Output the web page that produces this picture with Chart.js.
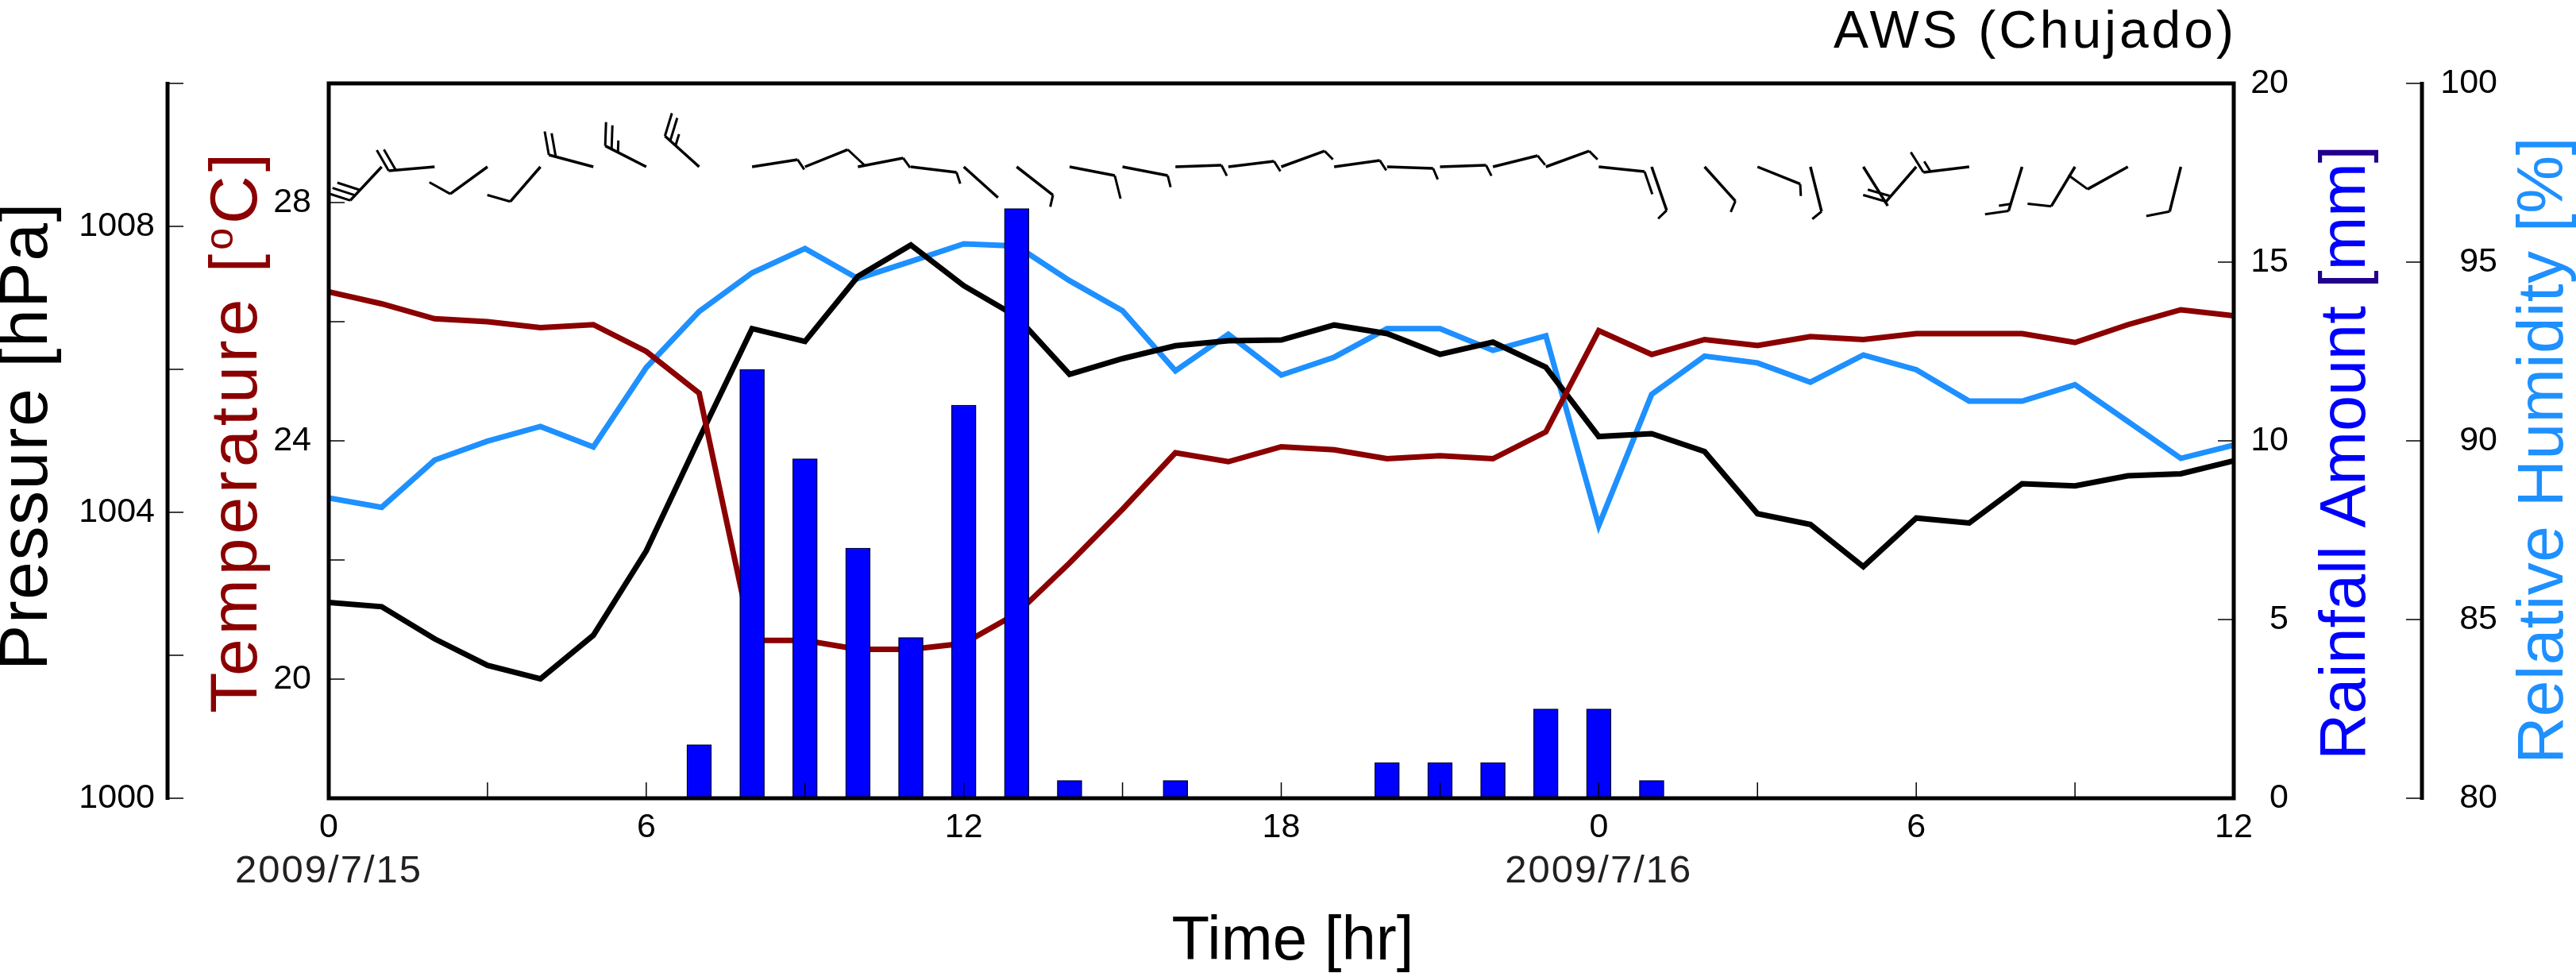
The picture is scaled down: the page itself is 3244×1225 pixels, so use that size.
<!DOCTYPE html>
<html>
<head>
<meta charset="utf-8">
<script src="https://cdn.jsdelivr.net/npm/chart.js@4/dist/chart.umd.min.js"></script>
<style>
  html, body { margin: 0; padding: 0; background: #fff; }
  canvas { display: block; }
</style>
</head>
<body>
<canvas id="awsChart" width="3244" height="1225"></canvas>
<script>
// hourly readings, 2009/7/15 00h .. 2009/7/16 12h
const hours = [0, 1, 2, 3, 4, 5, 6, 7, 8, 9, 10, 11, 12, 13, 14, 15, 16, 17, 18,
    19, 20, 21, 22, 23, 24, 25, 26, 27, 28, 29, 30, 31, 32, 33, 34, 35, 36];

const temperature = [26.5, 26.3, 26.05, 26.0, 25.9, 25.95, 25.5, 24.8, 20.65, 20.65, 20.5, 20.5,
    20.6, 21.1, 21.95, 22.85, 23.8, 23.65, 23.9, 23.85, 23.7, 23.75, 23.7, 24.15, 25.85, 25.45,
    25.7, 25.6, 25.75, 25.7, 25.8, 25.8, 25.8, 25.65, 25.95, 26.2, 26.1];

const pressure = [1002.74, 1002.68, 1002.23, 1001.86, 1001.67, 1002.28, 1003.46, 1005.03, 1006.57,
    1006.39, 1007.3, 1007.74, 1007.17, 1006.74, 1005.93, 1006.15, 1006.33, 1006.4, 1006.41,
    1006.62, 1006.5, 1006.21, 1006.38, 1006.03, 1005.06, 1005.1, 1004.85, 1003.98, 1003.83,
    1003.24, 1003.92, 1003.85, 1004.4, 1004.37, 1004.51, 1004.54, 1004.72];

const humidity = [88.4, 88.14, 89.46, 89.99, 90.4, 89.83, 92.05, 93.62, 94.7, 95.38, 94.54, 95.02,
    95.51, 95.45, 94.48, 93.64, 91.96, 92.98, 91.84, 92.34, 93.14, 93.14, 92.53, 92.94, 87.63,
    91.3, 92.37, 92.18, 91.64, 92.4, 91.99, 91.11, 91.11, 91.57, 90.54, 89.51, 89.88];

const rainfall = [0, 0, 0, 0, 0, 0, 0, 1.5, 12, 9.5, 7, 4.5, 11, 16.5, 0.5, 0, 0.5, 0, 0, 0,
    1, 1, 1, 2.5, 2.5, 0.5, 0, 0, 0, 0, 0, 0, 0, 0, 0, 0, 0];

// wind: direction it blows from (deg), speed (barb units: 10 = full feather, 5 = half)
const windDir = [null, 223, 265, 234, 221, 285, 297, 312, 81, 68, 79, 97, 132, 128, 101, 101, 88,
    83, 70, 82, 92, 88, 76, 70, 96, 161, 138, 112, 166, 148, 221, 263, 197, 211, 241, 194, null];
const windSpeed = [0, 30, 20, 10, 10, 20, 25, 25, 5, 10, 5, 5, 2, 5, 10, 5, 5,
    5, 5, 5, 5, 5, 5, 5, 10, 5, 5, 5, 5, 2, 20, 15, 15, 10, 10, 10, 0];

// axes
const xTickHours = [0, 3, 6, 9, 12, 15, 18, 21, 24, 27, 30, 33, 36];
const xLabelHours = [0, 6, 12, 18, 24, 30, 36];
const xLabels = ['0', '6', '12', '18', '0', '6', '12'];
const dateHours = [0, 24];
const dateLabels = ['2009/7/15', '2009/7/16'];
const tempTicks = [18, 20, 22, 24, 26, 28, 30];
const tempLabels = [20, 24, 28];
const pressTicks = [1000, 1002, 1004, 1006, 1008, 1010];
const pressLabels = [1000, 1004, 1008];
const rainTicks = [0, 5, 10, 15, 20];
const humTicks = [80, 85, 90, 95, 100];

const FONT = '"Liberation Sans", Arial, sans-serif';
const TEMP_COLOR = '#8b0000';
const RAIN_COLOR = '#0000ff';
const HUM_COLOR = '#1e90ff';

function line(ctx, x1, y1, x2, y2) {
    ctx.beginPath();
    ctx.moveTo(x1, y1);
    ctx.lineTo(x2, y2);
    ctx.stroke();
}

function text(ctx, str, x, y, size, align, baseline, color, spacing) {
    ctx.font = size + 'px ' + FONT;
    ctx.textAlign = align;
    ctx.textBaseline = baseline;
    ctx.fillStyle = color || '#000';
    ctx.letterSpacing = (spacing || 0) + 'px';
    ctx.fillText(str, x, y);
    ctx.letterSpacing = '0px';
}

// rotated title made of coloured pieces, read bottom to top
function vTitle(ctx, pieces, x, cy, spacing) {
    ctx.save();
    ctx.translate(x, cy);
    ctx.rotate(-Math.PI / 2);
    ctx.textAlign = 'left';
    ctx.textBaseline = 'alphabetic';
    ctx.letterSpacing = spacing + 'px';
    let total = 0;
    pieces.forEach(p => {
        ctx.font = p.size + 'px ' + FONT;
        p.w = ctx.measureText(p.t).width;
        total += p.w;
    });
    let pos = -total / 2;
    pieces.forEach(p => {
        ctx.font = p.size + 'px ' + FONT;
        ctx.fillStyle = p.c;
        ctx.fillText(p.t, pos, -(p.rise || 0));
        pos += p.w;
    });
    ctx.restore();
}

function drawBarbs(ctx, area, xScale) {
    const baseY = area.top + 105;
    const staff = 58, gap = 9, ang = 65 * Math.PI / 180;
    ctx.save();
    ctx.beginPath();
    ctx.rect(area.left, area.top, area.right - area.left, area.bottom - area.top);
    ctx.clip();
    ctx.strokeStyle = '#000';
    hours.forEach((h, i) => {
        if (windDir[i] === null) return;
        const t = windDir[i] * Math.PI / 180;
        const dx = Math.sin(t), dy = -Math.cos(t);
        const fx = Math.cos(ang) * dx - Math.sin(ang) * dy;
        const fy = Math.cos(ang) * dy + Math.sin(ang) * dx;
        const x0 = xScale.getPixelForValue(h);
        ctx.lineWidth = 3.5;
        line(ctx, x0, baseY, x0 + dx * staff, baseY + dy * staff);
        const full = Math.floor(windSpeed[i] / 10);
        const half = Math.round((windSpeed[i] % 10) / 5);
        ctx.lineWidth = 3;
        let pos = staff;
        for (let k = 0; k < full + half; k++) {
            const len = k < full ? 30 : 15;
            const sx = x0 + dx * pos, sy = baseY + dy * pos;
            line(ctx, sx, sy, sx + fx * len, sy + fy * len);
            pos -= gap;
        }
    });
    ctx.restore();
}

const decor = {
    id: 'decor',
    afterDatasetsDraw(chart) {
        drawBarbs(chart.ctx, chart.chartArea, chart.scales.x);
    },
    afterDraw(chart) {
        const ctx = chart.ctx;
        const a = chart.chartArea;
        const s = chart.scales;
        const pressX = 211, humX = 3050, tick = 20;

        ctx.save();
        ctx.strokeStyle = '#000';
        ctx.lineCap = 'butt';

        // thin inward ticks
        ctx.lineWidth = 1.5;
        xTickHours.forEach(h => {
            const x = s.x.getPixelForValue(h);
            line(ctx, x, a.bottom, x, a.bottom - tick);
        });
        tempTicks.forEach(v => {
            const y = s.yT.getPixelForValue(v);
            line(ctx, a.left, y, a.left + tick, y);
        });
        rainTicks.forEach(v => {
            const y = s.yR.getPixelForValue(v);
            line(ctx, a.right, y, a.right - tick, y);
        });
        pressTicks.forEach(v => {
            const y = s.yP.getPixelForValue(v);
            line(ctx, pressX, y, pressX + tick, y);
        });
        humTicks.forEach(v => {
            const y = s.yH.getPixelForValue(v);
            line(ctx, humX, y, humX - tick, y);
        });

        // frame and outer axis lines
        ctx.lineWidth = 5;
        ctx.strokeRect(a.left, a.top, a.right - a.left, a.bottom - a.top);
        line(ctx, pressX, a.top - 2, pressX, a.bottom + 2);
        line(ctx, humX, a.top - 2, humX, a.bottom + 2);
        ctx.restore();

        // tick labels
        tempLabels.forEach(v => text(ctx, String(v), 392, s.yT.getPixelForValue(v), 43, 'right', 'middle'));
        pressLabels.forEach(v => text(ctx, String(v), 195, s.yP.getPixelForValue(v), 43, 'right', 'middle'));
        rainTicks.forEach(v => text(ctx, String(v), 2882, s.yR.getPixelForValue(v), 43, 'right', 'middle'));
        humTicks.forEach(v => text(ctx, String(v), 3145, s.yH.getPixelForValue(v), 43, 'right', 'middle'));
        xLabelHours.forEach((h, i) => text(ctx, xLabels[i], s.x.getPixelForValue(h), a.bottom + 37, 43, 'center', 'middle'));
        dateHours.forEach((h, i) => text(ctx, dateLabels[i], s.x.getPixelForValue(h), a.bottom + 92, 49, 'center', 'middle', '#231f20', 2));

        // titles
        text(ctx, 'Time [hr]', 1628, 1208, 78, 'center', 'alphabetic', '#000', 0);
        text(ctx, 'AWS (Chujado)', a.right + 4, 60, 66, 'right', 'alphabetic', '#000', 4);

        vTitle(ctx, [{ t: 'Pressure [hPa]', size: 86, c: '#000' }], 59, 549, 1.5);
        vTitle(ctx, [
            { t: 'Temperature [', size: 84, c: TEMP_COLOR },
            { t: 'o', size: 50, c: TEMP_COLOR, rise: 30 },
            { t: 'C]', size: 84, c: TEMP_COLOR }
        ], 323, 543, 5);
        vTitle(ctx, [
            { t: 'Rainfall Amount ', size: 81, c: RAIN_COLOR },
            { t: '[', size: 81, c: '#22008c' },
            { t: 'mm', size: 81, c: RAIN_COLOR },
            { t: ']', size: 81, c: '#22008c' }
        ], 2978, 570, 0);
        vTitle(ctx, [{ t: 'Relative Humidity [%]', size: 82, c: HUM_COLOR }], 3227, 567, 0.5);
    }
};

const series = values => hours.map((h, i) => ({ x: h, y: values[i] }));

new Chart(document.getElementById('awsChart'), {
    type: 'line',
    data: {
        datasets: [{
            type: 'bar',
            label: 'Rainfall',
            data: series(rainfall).filter(p => p.y > 0),
            yAxisID: 'yR',
            backgroundColor: RAIN_COLOR,
            borderColor: '#00003c',
            borderWidth: 1.5,
            borderSkipped: 'bottom',
            barThickness: 31,
            order: 0
        }, {
            label: 'Temperature',
            data: series(temperature),
            yAxisID: 'yT',
            borderColor: TEMP_COLOR,
            borderWidth: 7,
            pointRadius: 0,
            order: 1
        }, {
            label: 'Pressure',
            data: series(pressure),
            yAxisID: 'yP',
            borderColor: '#000',
            borderWidth: 7,
            pointRadius: 0,
            order: 2
        }, {
            label: 'Humidity',
            data: series(humidity),
            yAxisID: 'yH',
            borderColor: HUM_COLOR,
            borderWidth: 7,
            pointRadius: 0,
            order: 3
        }]
    },
    options: {
        responsive: false,
        animation: false,
        devicePixelRatio: 1,
        events: [],
        layout: { padding: { left: 414, right: 431, top: 105, bottom: 220 } },
        plugins: { legend: { display: false }, tooltip: { enabled: false } },
        scales: {
            x: { type: 'linear', min: 0, max: 36, offset: false, display: false },
            yT: { type: 'linear', min: 18, max: 30, display: false },
            yP: { type: 'linear', min: 1000, max: 1010, display: false },
            yR: { type: 'linear', min: 0, max: 20, display: false },
            yH: { type: 'linear', min: 80, max: 100, display: false }
        }
    },
    plugins: [decor]
});
</script>
</body>
</html>
